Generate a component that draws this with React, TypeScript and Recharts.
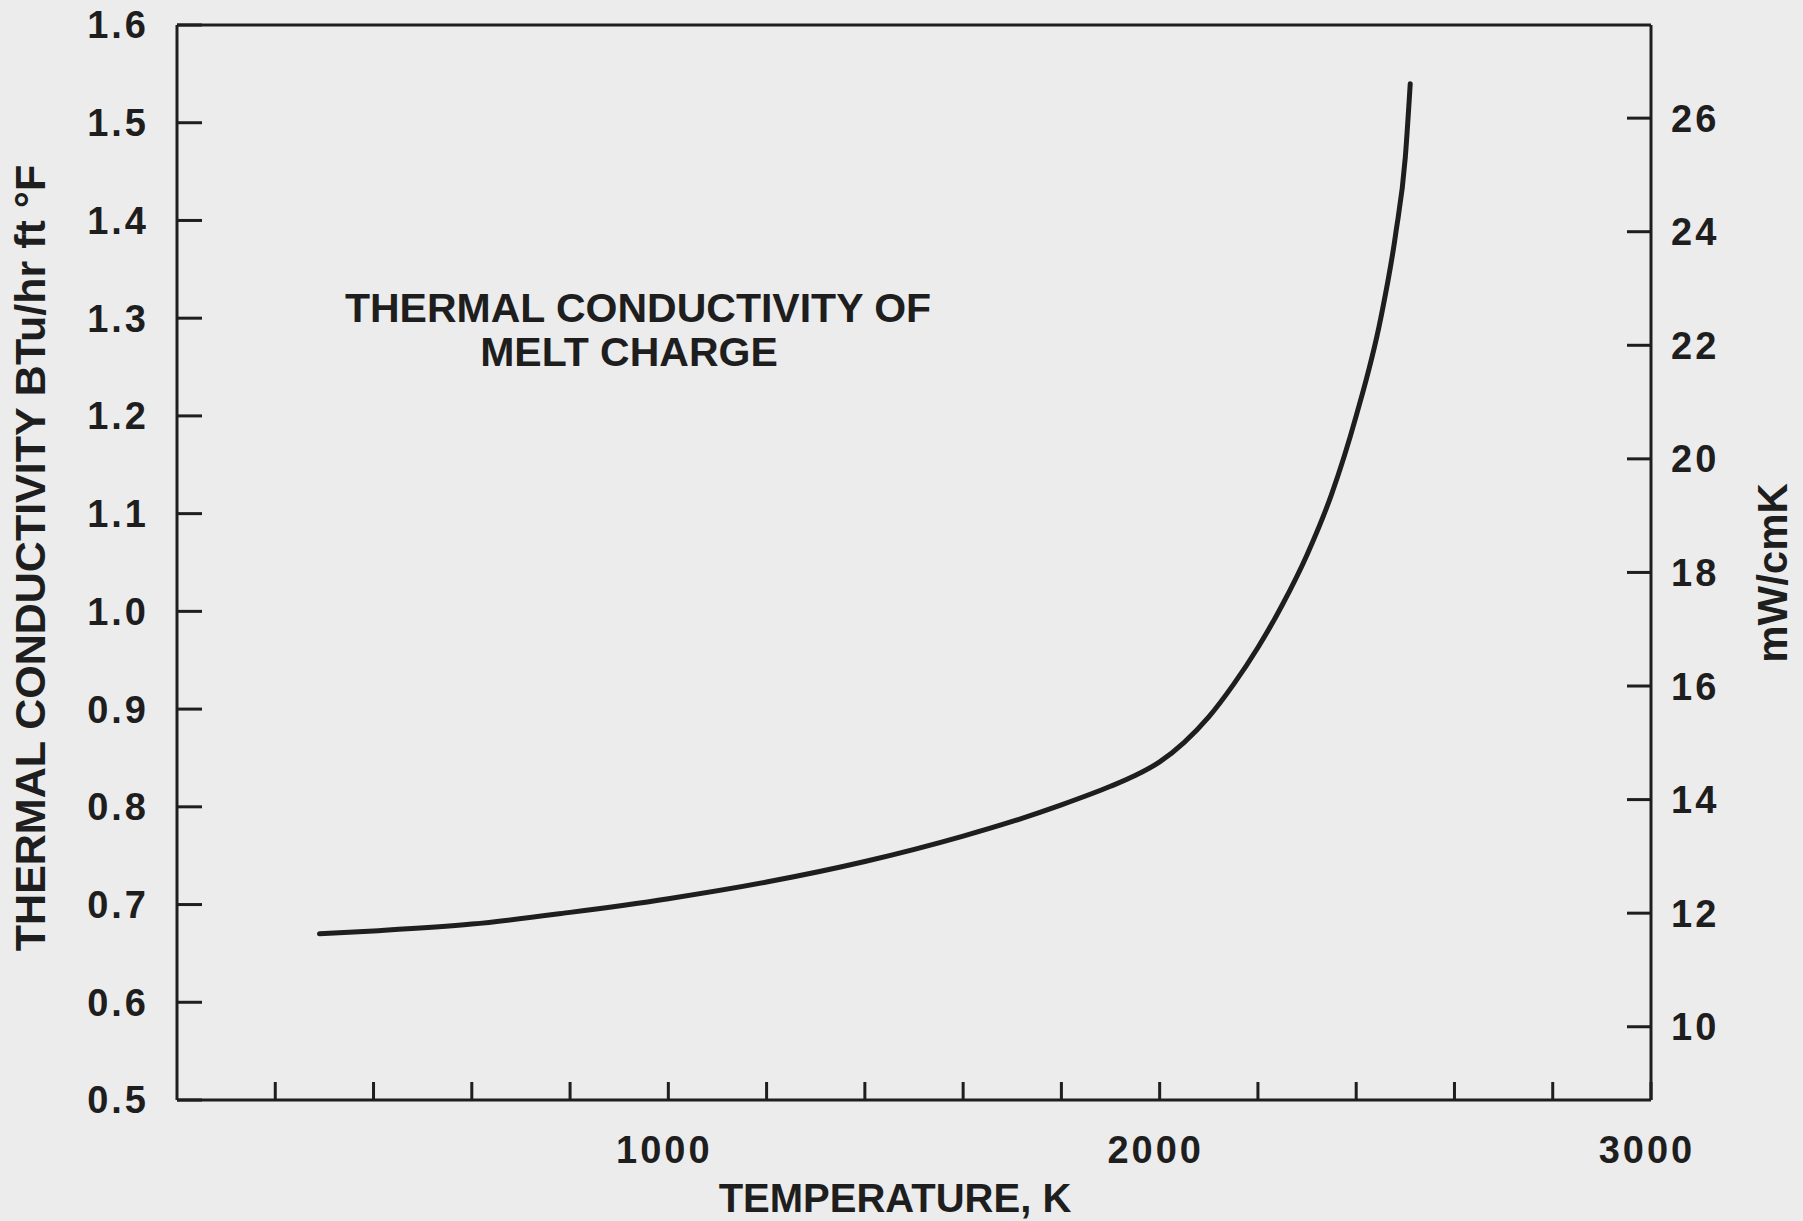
import React from 'react';
import { LineChart, Line, XAxis, YAxis } from 'recharts';

// Temperature (K) and thermal conductivity (BTu/hr ft °F)
const temperatureK = [290, 400, 600, 800, 1000, 1200, 1400, 1600, 1700, 1800, 1900, 1950, 2000, 2050, 2100, 2150, 2200, 2250, 2300, 2350, 2400, 2450, 2480, 2500, 2510];
const conductivity = [0.670, 0.673, 0.680, 0.692, 0.706, 0.723, 0.744, 0.770, 0.785, 0.802, 0.821, 0.832, 0.846, 0.866, 0.892, 0.925, 0.963, 1.007, 1.058, 1.120, 1.200, 1.300, 1.385, 1.465, 1.540];

const leftTicks = [0.5, 0.6, 0.7, 0.8, 0.9, 1.0, 1.1, 1.2, 1.3, 1.4, 1.5, 1.6];
const rightTicks = [10, 12, 14, 16, 18, 20, 22, 24, 26];
const xTicks = [200, 400, 600, 800, 1000, 1200, 1400, 1600, 1800, 2000, 2200, 2400, 2600, 2800, 3000];
const xLabelValues = [1000, 2000, 3000];

const annotationLines = ['THERMAL CONDUCTIVITY OF', 'MELT CHARGE'];
const xTitle = 'TEMPERATURE, K';
const yTitle = 'THERMAL CONDUCTIVITY BTu/hr ft °F';
const y2Title = 'mW/cmK';

const data = temperatureK.map((t, i) => ({ t, k: conductivity[i] }));

const INK = '#1e1e1e';
const FONT = '"Liberation Sans", Arial, Helvetica, sans-serif';
const tickStyle = { fill: INK, fontSize: 38, fontWeight: 700, fontFamily: FONT, letterSpacing: 3 };
const lineStyle = { stroke: INK, strokeWidth: 3 };

export default function App() {
  return (
    <div style={{ position: 'absolute', left: 0, top: 0, width: 1803, height: 1221, background: '#ececec', overflow: 'hidden' }}>
      <LineChart width={1803} height={1221} data={data} margin={{ top: 5, right: 52, bottom: 61, left: 77 }}>
        <XAxis
          xAxisId="bottom"
          dataKey="t"
          type="number"
          domain={[0, 3000]}
          allowDataOverflow
          ticks={xTicks}
          height={60}
          tickSize={-18}
          tickMargin={54}
          axisLine={lineStyle}
          tickLine={lineStyle}
          tick={{ ...tickStyle, dx: -4 }}
          tickFormatter={(v: number) => (xLabelValues.includes(v) ? String(v) : '')}
          interval={0}
        />
        <XAxis
          xAxisId="top"
          orientation="top"
          type="number"
          domain={[0, 3000]}
          allowDataOverflow
          ticks={xTicks}
          height={20}
          tickSize={-15}
          axisLine={lineStyle}
          tickLine={lineStyle}
          tickFormatter={() => ''}
          interval={0}
        />
        <YAxis
          yAxisId="left"
          type="number"
          domain={[0.5, 1.6]}
          allowDataOverflow
          ticks={leftTicks}
          width={100}
          tickSize={-25}
          tickMargin={53}
          axisLine={lineStyle}
          tickLine={lineStyle}
          tick={tickStyle}
          tickFormatter={(v: number) => v.toFixed(1)}
          interval={0}
        />
        <YAxis
          yAxisId="right"
          orientation="right"
          type="number"
          domain={[8.71, 27.64]}
          allowDataOverflow
          ticks={rightTicks}
          width={100}
          tickSize={-24}
          tickMargin={44}
          axisLine={lineStyle}
          tickLine={lineStyle}
          tick={tickStyle}
          interval={0}
        />
        <Line
          xAxisId="bottom"
          yAxisId="left"
          type="monotone"
          dataKey="k"
          stroke={INK}
          strokeWidth={5}
          strokeLinecap="round"
          dot={false}
          activeDot={false}
          isAnimationActive={false}
        />
      </LineChart>
      <svg width={1803} height={1221} style={{ position: 'absolute', left: 0, top: 0, pointerEvents: 'none' }}>
        <g fill={INK} fontFamily={FONT} fontWeight={700}>
          <text x={638} y={322} fontSize={41} textAnchor="middle">{annotationLines[0]}</text>
          <text x={629} y={366} fontSize={41} textAnchor="middle">{annotationLines[1]}</text>
          <text x={895} y={1212} fontSize={40} textAnchor="middle">{xTitle}</text>
          <text x={45} y={558} fontSize={43} textAnchor="middle" transform="rotate(-90 45 558)">{yTitle}</text>
          <text x={1787} y={573} fontSize={42} textAnchor="middle" transform="rotate(-90 1787 573)">{y2Title}</text>
        </g>
      </svg>
    </div>
  );
}
